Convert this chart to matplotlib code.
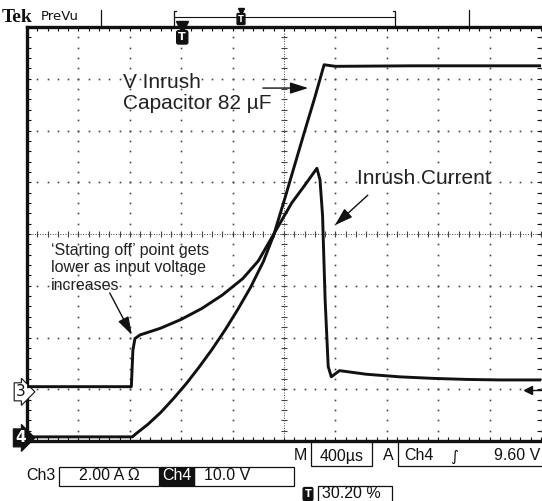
import numpy as np
import matplotlib
matplotlib.use("Agg")
import matplotlib.pyplot as plt
from matplotlib.lines import Line2D
from matplotlib.patches import Rectangle

# screen readout, in divisions (10 x 8 graticule)
ch4_x = [0.0, 2.05, 2.12, 2.35, 2.60, 2.85, 3.10, 3.35, 3.60, 3.85, 4.10, 4.35, 4.60, 4.80,
         5.02, 5.21, 5.40, 5.60, 5.78, 6.00, 7.50, 10.0]
ch4_y = [0.08, 0.08, 0.14, 0.32, 0.55, 0.82, 1.11, 1.43, 1.77, 2.14, 2.54, 2.97, 3.47, 3.98,
         4.70, 5.34, 5.98, 6.64, 7.27, 7.24, 7.25, 7.25]

ch3_x = [0.0, 2.03, 2.06, 2.10, 2.20, 2.60, 3.00, 3.40, 3.80, 4.20, 4.50, 4.79, 5.15, 5.41,
         5.64, 5.70, 5.75, 5.80, 5.86, 5.92, 6.08, 6.60, 7.25, 7.90, 8.55, 9.19, 10.0]
ch3_y = [1.05, 1.05, 1.75, 1.98, 2.05, 2.18, 2.35, 2.56, 2.82, 3.14, 3.48, 3.98, 4.60, 4.95,
         5.27, 5.05, 4.36, 2.73, 1.44, 1.24, 1.36, 1.29, 1.24, 1.21, 1.19, 1.18, 1.18]

ch3_ref = 0.95
ch4_ref = 0.06
trig_level = 0.99
trig_pos = 30.20

time_div = "400µs"
ch3_scale = "2.00 A Ω"
ch4_scale = "10.0 V"
trig_text = "9.60 V"

W, H = 542, 501
ink = "#111111"
gridc = "#444444"

fig = plt.figure(figsize=(W / 100, H / 100), dpi=100)
fig.patch.set_facecolor("white")


def fx(x):
    return x / W


def fy(y):
    return 1 - y / H


ax = fig.add_axes([fx(27), fy(441), fx(541) - fx(27), fy(27) - fy(441)])
ax.set_xlim(0, 10)
ax.set_ylim(0, 8)

# graticule: dotted lines every division, denser centre lines with ticks
dots_y = np.arange(0, 8.01, 0.2)
dots_x = np.arange(0, 10.01, 0.2)
for gx in range(1, 11):
    if gx == 5:
        continue
    ax.plot(np.full(len(dots_y), gx), dots_y, ls="none", marker="s", ms=1.2, mew=0, color=gridc)
for gy in range(1, 8):
    if gy == 4:
        continue
    ax.plot(dots_x, np.full(len(dots_x), gy), ls="none", marker="s", ms=1.2, mew=0, color=gridc)
ax.axvline(5, ls=(0, (1, 1.6)), lw=0.7, color=gridc)
ax.axhline(4, ls=(0, (1, 1.6)), lw=0.7, color=gridc)
ax.plot(np.full(len(dots_y), 5), dots_y, ls="none", marker="_", ms=5, mew=0.8, color=gridc)
ax.plot(dots_x, np.full(len(dots_x), 4), ls="none", marker="|", ms=5, mew=0.8, color=gridc)

ax.set_xticks(range(0, 11))
ax.set_yticks(range(0, 9))
ax.set_xticks(dots_x, minor=True)
ax.set_yticks(dots_y, minor=True)
ax.tick_params(which="both", direction="in", top=True, right=True, labelbottom=False,
               labelleft=False, length=3, width=0.8, color=ink)
for s in ["left", "bottom", "top"]:
    ax.spines[s].set_linewidth(2.4)
    ax.spines[s].set_color(ink)
ax.spines["right"].set_visible(False)

# traces
ax.plot(ch4_x, ch4_y, color=ink, lw=2.1, solid_joinstyle="round", zorder=5)
ax.plot(ch3_x, ch3_y, color=ink, lw=2.1, solid_joinstyle="round", zorder=5)

# channel markers
ax.text(-0.03, ch3_ref, "3", ha="right", va="center", fontsize=11, color=ink, clip_on=False,
        family="DejaVu Sans",
        bbox=dict(boxstyle="rarrow,pad=0.1", fc="white", ec=ink, lw=0.8))
ax.text(-0.03, ch4_ref, "4", ha="right", va="center", fontsize=11, fontweight="bold",
        color="white", clip_on=False, family="DejaVu Sans",
        bbox=dict(boxstyle="rarrow,pad=0.1", fc=ink, ec=ink, lw=0.8))
ax.plot([9.75], [trig_level], marker="<", ms=6, color=ink, clip_on=False, zorder=6)
ax.plot([9.8, 10.0], [trig_level, trig_level], color=ink, lw=1.0, clip_on=False, zorder=6)

# trigger position marker on top edge
tx = trig_pos / 10
ax.plot([tx], [8.0], marker="v", ms=8, color=ink, clip_on=False, zorder=6)
ax.text(tx, 7.8, "T", ha="center", va="center", fontsize=8, fontweight="bold", color="white",
        family="DejaVu Sans", bbox=dict(boxstyle="round,pad=0.15", fc=ink, ec=ink), zorder=6)

# annotations
txt = dict(family="Liberation Sans", color="#222222")
arrow = dict(arrowstyle="-|>,head_length=1.1,head_width=0.35", color=ink, lw=1.0,
             shrinkA=0, shrinkB=0, mutation_scale=10)
ax.text(1.87, 6.73, "V Inrush\nCapacitor 82 µF", ha="left", va="center", fontsize=15,
        linespacing=1.15, **txt)
ax.annotate("", xy=(5.47, 6.82), xytext=(4.59, 6.82), arrowprops=arrow)
ax.text(6.42, 5.08, "Inrush Current", ha="left", va="center", fontsize=15, **txt)
ax.annotate("", xy=(5.99, 4.17), xytext=(6.63, 4.75), arrowprops=arrow)
ax.text(0.47, 3.35, "‘Starting off’ point gets\nlower as input voltage\nincreases", ha="left",
        va="center", fontsize=11.5, linespacing=1.2, **txt)
ax.annotate("", xy=(2.04, 2.05), xytext=(1.61, 2.86), arrowprops=arrow)

# header bar
fig.text(fx(2), fy(17), "Tek", ha="left", va="center", fontsize=14, fontweight="bold",
         family="Liberation Serif", color=ink)
fig.text(fx(41), fy(17), "PreVu", ha="left", va="center", fontsize=9.5, family="DejaVu Sans",
         color=ink)
for xv in [101, 469]:
    fig.add_artist(Line2D([fx(xv), fx(xv)], [fy(10), fy(26)], color=ink, lw=0.9))
fig.add_artist(Line2D([fx(174), fx(395)], [fy(17), fy(17)], color=ink, lw=0.8))
fig.add_artist(Line2D([fx(176), fx(174), fx(174)], [fy(11), fy(11), fy(26)], color=ink, lw=0.9))
fig.add_artist(Line2D([fx(393), fx(395), fx(395)], [fy(11), fy(11), fy(26)], color=ink, lw=0.9))
fig.text(fx(241), fy(19), "T", ha="center", va="center", fontsize=6, fontweight="bold",
         color="white", family="DejaVu Sans",
         bbox=dict(boxstyle="round,pad=0.12", fc=ink, ec=ink))
fig.add_artist(Line2D([fx(241)], [fy(11)], marker="v", ms=4, color=ink))

# readouts
ro = dict(family="Liberation Sans", fontsize=11.5, color=ink, va="center")


def box(x0, y0, x1, y1, fill="none"):
    fig.add_artist(Rectangle((fx(x0), fy(y1)), fx(x1) - fx(x0), fy(y0) - fy(y1),
                             fc=fill, ec=ink, lw=0.9, transform=fig.transFigure))


fig.text(fx(307), fy(456), "M", ha="right", **ro)
box(311, 441, 372, 466)
fig.text(fx(341.5), fy(456), time_div, ha="center", **ro)
fig.text(fx(394), fy(456), "A", ha="right", **ro)
fig.add_artist(Line2D([fx(398), fx(398), fx(541)], [fy(441), fy(466), fy(466)], color=ink, lw=0.9))
fig.text(fx(404), fy(456), "Ch4", ha="left", **ro)
fig.text(fx(454), fy(456), "∫", ha="center", family="DejaVu Sans", fontsize=11, color=ink,
         va="center")
fig.text(fx(540), fy(456), trig_text, ha="right", **ro)

fig.text(fx(26), fy(476), "Ch3", ha="left", **ro)
box(59, 467, 159, 486)
fig.text(fx(109), fy(476), ch3_scale, ha="center", **ro)
box(160, 467, 194, 486, fill=ink)
fig.text(fx(177), fy(476), "Ch4", ha="center", family="Liberation Sans", fontsize=11.5,
         color="white", va="center")
box(194, 467, 294, 486)
fig.text(fx(204), fy(476), ch4_scale, ha="left", **ro)

fig.text(fx(308), fy(494), "T", ha="center", va="center", fontsize=7, fontweight="bold",
         color="white", family="DejaVu Sans",
         bbox=dict(boxstyle="round,pad=0.15", fc=ink, ec=ink))
box(318, 486, 392, 502)
fig.text(fx(322), fy(494), f"{trig_pos:.2f} %", ha="left", **ro)

fig.savefig("out.png", dpi=100, facecolor="white")
